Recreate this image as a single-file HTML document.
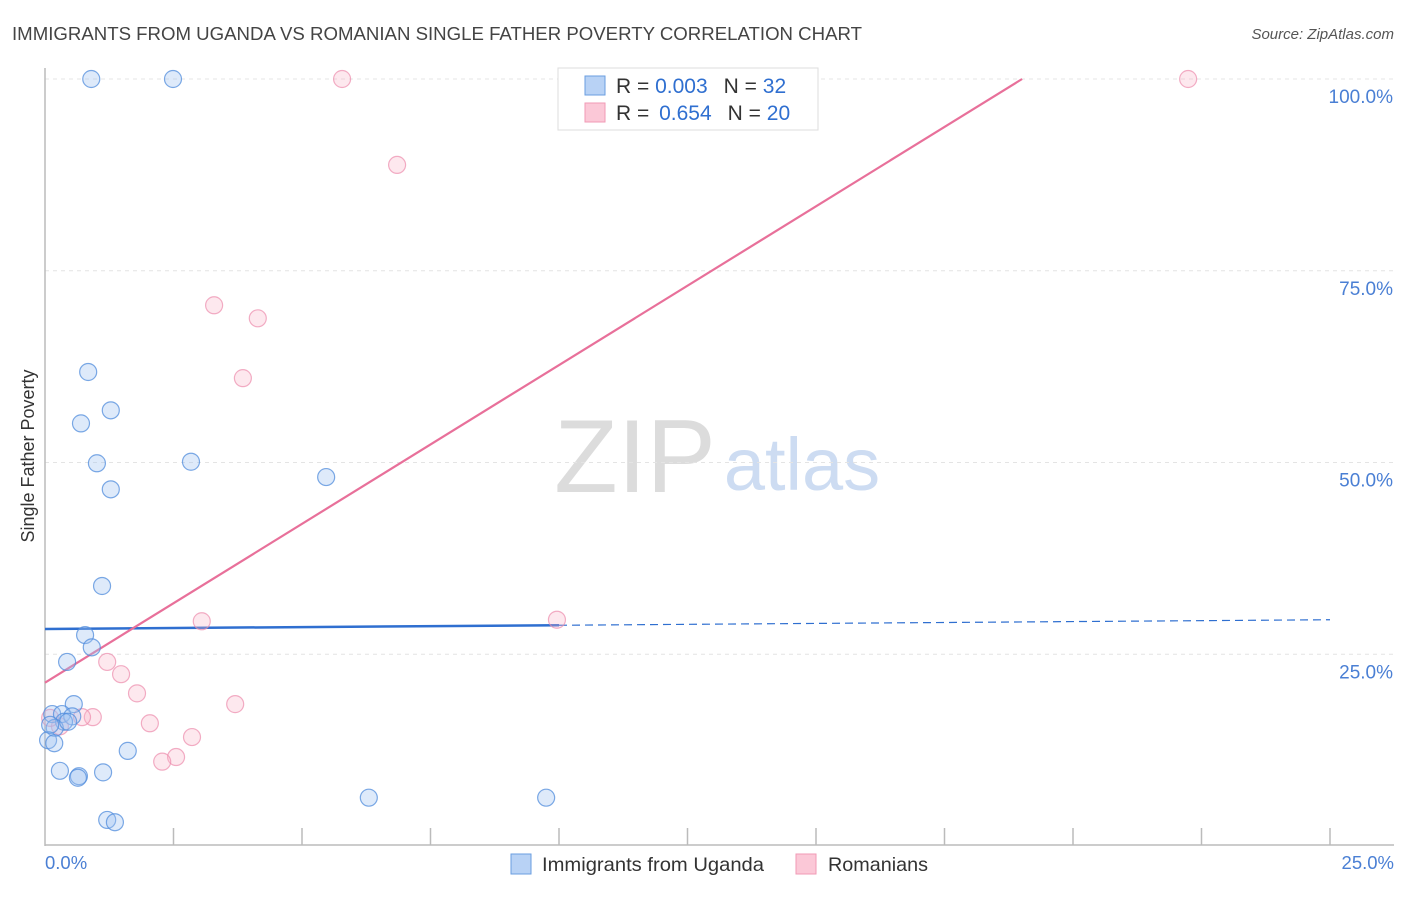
<!DOCTYPE html>
<html><head><meta charset="utf-8"><style>
body{margin:0;background:#fff;font-family:"Liberation Sans",sans-serif;}
svg text{font-family:"Liberation Sans",sans-serif;}
</style></head><body>
<svg id="chart" width="1406" height="892" viewBox="0 0 1406 892" xmlns="http://www.w3.org/2000/svg">
<text x="12" y="40" font-size="18.2" fill="#444" textLength="850" lengthAdjust="spacingAndGlyphs">IMMIGRANTS FROM UGANDA VS ROMANIAN SINGLE FATHER POVERTY CORRELATION CHART</text>
<text x="1394" y="39" font-size="15" fill="#555" text-anchor="end" font-style="italic">Source: ZipAtlas.com</text>
<g>
<text x="635" y="492" font-size="104" fill="#dcdcdc" font-family="Liberation Serif,serif" text-anchor="middle">ZIP</text>
<text x="802" y="490" font-size="74" fill="#cddcf2" text-anchor="middle">atlas</text>
</g>
<g id="grid"></g>
<line x1="45" y1="68" x2="45" y2="846" stroke="#bbb" stroke-width="1.5"/>
<line x1="45" y1="845" x2="1394" y2="845" stroke="#bbb" stroke-width="1.5"/>
<g id="xticks"></g>
<text transform="translate(34,456) rotate(-90)" font-size="18" fill="#333" text-anchor="middle">Single Father Poverty</text>
<text x="45" y="869" font-size="18.5" fill="#4a7fd4">0.0%</text>
<text x="1394" y="869" font-size="18.5" fill="#4a7fd4" text-anchor="end">25.0%</text>
<g id="trend"></g>
<g id="points"></g>
<g>
<rect x="558" y="68" width="260" height="62" fill="#fff" stroke="#ddd"/>
<rect x="585" y="76" width="20" height="19" fill="#b8d2f5" stroke="#6a9ee0"/>
<rect x="585" y="103" width="20" height="19" fill="#fbc8d7" stroke="#f09ab5"/>
<text x="616" y="93" font-size="21" fill="#333">R = <tspan fill="#2f6fd0">0.003</tspan><tspan dx="16">N = </tspan><tspan fill="#2f6fd0">32</tspan></text>
<text x="616" y="120" font-size="21" fill="#333">R = <tspan fill="#2f6fd0" dx="4">0.654</tspan><tspan dx="16">N = </tspan><tspan fill="#2f6fd0">20</tspan></text>
</g>
<g>
<rect x="511" y="854" width="20" height="20" fill="#b8d2f5" stroke="#6a9ee0"/>
<text x="542" y="871" font-size="19.5" fill="#333" textLength="222" lengthAdjust="spacingAndGlyphs">Immigrants from Uganda</text>
<rect x="796" y="854" width="20" height="20" fill="#fbc8d7" stroke="#f09ab5"/>
<text x="828" y="871" font-size="19.5" fill="#333" textLength="100" lengthAdjust="spacingAndGlyphs">Romanians</text>
</g>
</svg>
<script>
const yTicks=[25,50,75,100];
const yTickLabels=["25.0%","50.0%","75.0%","100.0%"];
const blueX=[0.9,2.49,0.84,1.28,0.70,1.01,2.84,1.28,5.47,1.11,0.78,0.91,0.43,0.56,0.14,0.33,0.53,0.37,0.19,0.06,0.18,0.29,0.66,0.64,1.13,1.61,6.30,9.75,1.21,1.36,0.10,0.45];
const blueY=[100,100,61.8,56.8,55.1,49.9,50.1,46.5,48.1,33.9,27.5,25.9,24.0,18.5,17.2,17.2,16.9,16.2,15.4,13.8,13.4,9.8,9.1,8.9,9.6,12.4,6.3,6.3,3.4,3.1,15.8,16.2];
const pinkX=[5.78,22.24,6.85,3.29,4.14,3.85,3.05,9.96,1.21,1.48,1.79,3.70,0.93,0.72,2.04,2.86,2.55,2.28,0.29,0.10];
const pinkY=[100,100,88.8,70.5,68.8,61.0,29.3,29.5,24.0,22.4,19.9,18.5,16.8,16.8,16.0,14.2,11.6,11.0,15.6,16.7];
const blueTrend=[28.3,29.5];
const pinkTrend=[21.3,4.14];
const NS="http://www.w3.org/2000/svg";
const sx=v=>45+v/25*1285, sy=v=>846-v/100*767;
function mk(tag,attrs,parent){const e=document.createElementNS(NS,tag);for(const k in attrs)e.setAttribute(k,attrs[k]);document.getElementById(parent).appendChild(e);return e;}
yTicks.forEach((t,i)=>{
 const l=mk('line',{x1:45,x2:1394,y1:sy(t),y2:sy(t),stroke:'#e4e4e4','stroke-dasharray':'4,4'},'grid');
 
 
 const tx=mk('text',{x:1393,y:sy(t)+24,'font-size':19,fill:'#4a7fd4','text-anchor':'end'},'grid');
 tx.textContent=yTickLabels[i];
 
 
});
for(let i=1;i<=10;i++){
 const l=mk('line',{x1:sx(i*2.5),x2:sx(i*2.5),y1:828,y2:845,stroke:'#bbb','stroke-width':1.5},'xticks');
 
 
}
const bs=mk('line',{x1:sx(0),y1:sy(blueTrend[0]),x2:sx(10),y2:sy(blueTrend[0]+(blueTrend[1]-blueTrend[0])*10/25),stroke:'#2f6fd0','stroke-width':2.5},'trend');


const bd=mk('line',{x1:sx(10),y1:sy(blueTrend[0]+(blueTrend[1]-blueTrend[0])*10/25),x2:sx(25),y2:sy(blueTrend[1]),stroke:'#2f6fd0','stroke-width':1.2,'stroke-dasharray':'8,5'},'trend');


const xEnd=(100-pinkTrend[0])/pinkTrend[1];
const pl=mk('line',{x1:sx(0),y1:sy(pinkTrend[0]),x2:sx(xEnd),y2:sy(100),stroke:'#e8709a','stroke-width':2.2},'trend');


pinkX.forEach((x,i)=>{
 const c=mk('circle',{cx:sx(x),cy:sy(pinkY[i]),r:8.5,fill:'rgba(248,180,200,0.3)',stroke:'rgba(236,140,172,0.7)','stroke-width':1.2},'points');
 
 
});
blueX.forEach((x,i)=>{
 const c=mk('circle',{cx:sx(x),cy:sy(blueY[i]),r:8.5,fill:'rgba(160,195,240,0.35)',stroke:'rgba(80,140,220,0.75)','stroke-width':1.2},'points');
 
 
});
</script>
</body></html>
